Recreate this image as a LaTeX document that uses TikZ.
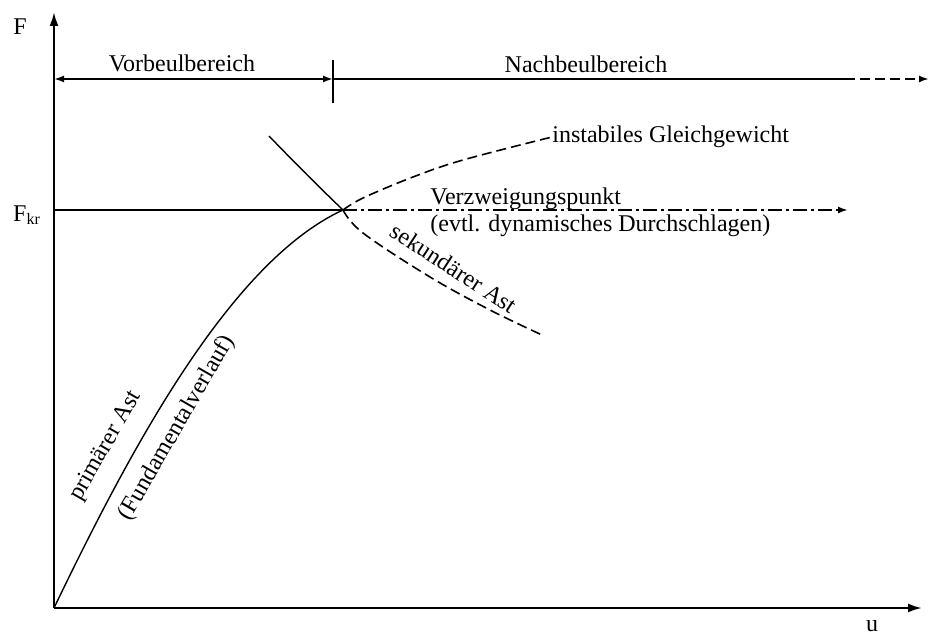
\documentclass[tikz,border=0pt]{standalone}
\usepackage{fontspec}
\setmainfont{Liberation Serif}
\usetikzlibrary{arrows.meta}

\begin{document}
\begin{tikzpicture}[x=0.5pt,y=-0.5pt,
  axis/.style={line width=1.1pt,-{Latex[length=7pt,width=4.5pt]}},
  dimline/.style={line width=0.9pt},
  curve/.style={line width=0.7pt},
  dashcurve/.style={line width=0.8pt,dash pattern=on 5pt off 2.5pt},
  label/.style={inner sep=0pt,font=\fontsize{12}{14}\selectfont}]
\useasboundingbox (0,0) rectangle (928,635);
% points
\coordinate (O) at (54,608);
\coordinate (Ytop) at (54,12);
\coordinate (Xend) at (922,608);
\coordinate (Kr) at (54,210);
\coordinate (B) at (343,210);
\coordinate (Kend) at (848,210);
\coordinate (L) at (54,79);
\coordinate (T) at (333,79);
\coordinate (Tup) at (333,60);
\coordinate (Tdn) at (333,103);
\coordinate (Ns) at (845,79);
\coordinate (Ne) at (929,79);
\coordinate (S) at (269,136);
\coordinate (Iend) at (552,137);
\coordinate (Send) at (542,335);

% axes
\draw[axis] (O) -- (Ytop);
\draw[axis] (O) -- (Xend);
\node[label] (F) at (20,27) {F};
\node[label] (Fkr) at (27,215) {F\textsubscript{kr}};
\node[label,anchor=base] (u) at (872,632) {u};

% bereiche
\draw[dimline,{Latex[length=5pt,width=3.5pt]}-{Latex[length=5pt,width=3.5pt]}] (L) -- (T);
\draw[dimline] (Tup) -- (Tdn);
\draw[dimline] (T) -- (Ns);
\draw[line width=1.3pt,dash pattern=on 5pt off 2.5pt,-{Latex[length=5pt,width=3.5pt]}] (Ns) -- (Ne);
\node[label,anchor=base] (vor) at (182,72) {Vorbeulbereich};
\node[label,anchor=base] (nach) at (586,73) {Nachbeulbereich};

% F_kr
\draw[curve] (Kr) -- (B);
\draw[line width=1.4pt,dash pattern=on 7pt off 2pt on 1.5pt off 2pt,
  -{Latex[length=5pt,width=3.5pt]}] (B) -- (Kend);
\node[label,anchor=base west] (verz) at (430,205) {Verzweigungspunkt};
\node[label,anchor=base west] (dyn) at (430,232) {(evtl. dynamisches Durchschlagen)};

% primaerer Ast
\draw[curve] (O) .. controls (130,450) and (230,262) .. (B);
\node[label,rotate=60] (prim) at (106,446) {primärer Ast};
\node[label,rotate=60] (fund) at (177,428) {(Fundamentalverlauf)};

% instabil
\draw[dashcurve] plot[smooth,tension=0.6] coordinates
  {(B) (363,198) (413,177) (463,160) (Iend)};
\node[label,anchor=west] (inst) at (Iend) {instabiles Gleichgewicht};

% sekundaerer Ast
\draw[curve] (S) .. controls (295,163) and (320,188) .. (B);
\draw[dashcurve] plot[smooth,tension=0.6] coordinates
  {(B) (363,233) (430,277) (490,310) (Send)};
\node[label,rotate=-33] (sek) at (454,268) {sekundärer Ast};
\end{tikzpicture}
\end{document}
